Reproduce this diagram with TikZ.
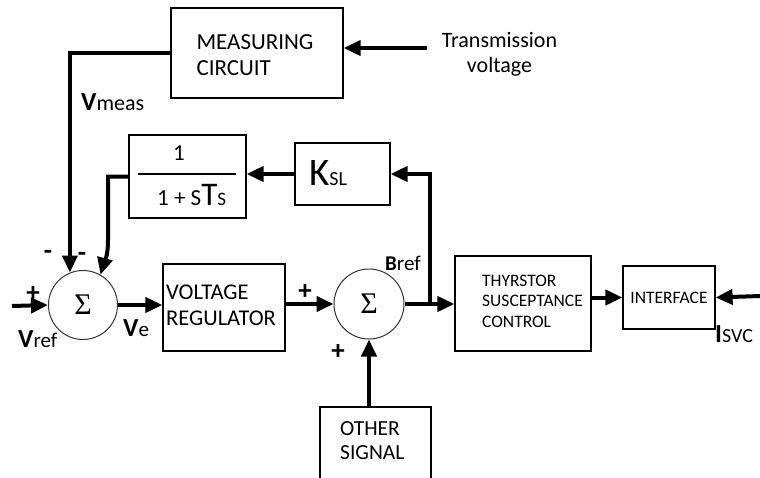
\documentclass[tikz,border=0pt]{standalone}
\usepackage{fontspec}
\setmainfont{Carlito}
\newfontfamily\sigmafont{Liberation Serif}
\usetikzlibrary{arrows.meta}
\begin{document}
\begin{tikzpicture}[x=1pt,y=-1pt,
  box/.style={draw,line width=1.2pt,inner sep=0pt},
  conn/.style={line width=4pt,-{Triangle[length=17pt,width=15pt]}},
  sumnode/.style={circle,draw=black!80,line width=1pt,minimum size=69pt,inner sep=0pt,font=\sigmafont\fontsize{30}{30}\selectfont},
  txt/.style={inner sep=0pt,align=left},
  sign/.style={inner sep=0pt,font=\fontsize{27}{27}\selectfont\bfseries},
  lbl/.style={inner sep=0pt,anchor=base west}
]
\useasboundingbox (0,0) rectangle (760,477);
\clip (0,0) rectangle (760,477);

% blocks
\node[box,minimum width=172pt,minimum height=90pt] (meas) at (257,53) {};
\node[txt,font=\fontsize{23}{26}\selectfont] (meastxt) at (255,55.5) {MEASURING\\CIRCUIT};

\node[txt,align=center,font=\fontsize{22}{25}\selectfont] (tv) at (499.5,54.5) {Transmission\\voltage};
\coordinate (tvin) at (427,48);

\node[box,minimum width=117pt,minimum height=83pt] (filt) at (187.5,176.5) {};
\draw[line width=1.2pt] (138,174) -- (236,174);
\node[txt,font=\fontsize{23}{23}\selectfont] (fnum) at (179,153) {1};
\node[lbl,font=\fontsize{23}{23}\selectfont] (fden) at (157,205) {1 + S{\fontsize{33}{33}\selectfont T}{\fontsize{19}{19}\selectfont S}};

\node[box,minimum width=95pt,minimum height=62pt] (ksl) at (342.5,174) {};
\node[lbl] (ksltxt) at (309,185) {{\fontsize{39}{39}\selectfont K}{\fontsize{20}{20}\selectfont SL}};

\node[sumnode] (s1) at (83,305) {Σ};
\node[sumnode,minimum size=70pt] (s2) at (369,304) {Σ};

\node[box,minimum width=122pt,minimum height=87pt] (vr) at (224,307.5) {};
\node[txt,anchor=west,font=\fontsize{22.5}{26}\selectfont] (vrtxt) at (166,305.5) {VOLTAGE\\REGULATOR};

\node[box,minimum width=136pt,minimum height=95pt] (tsc) at (523,303.5) {};
\node[txt,anchor=west,font=\fontsize{17.5}{20.5}\selectfont] (tsctxt) at (482,301) {THYRSTOR\\SUSCEPTANCE\\CONTROL};

\node[box,minimum width=92pt,minimum height=63pt,font=\fontsize{17.5}{17.5}\selectfont] (intf) at (669,297.5) {INTERFACE};
\coordinate (iin) at (760,296);

\node[box,minimum width=111pt,minimum height=80pt] (os) at (375.5,447) {};
\node[txt,anchor=west,font=\fontsize{21.5}{24}\selectfont] (ostxt) at (340,440.5) {OTHER\\SIGNAL};

\coordinate (vin) at (12,306);
\coordinate (br) at (430,304);

% connectors
\draw[conn] (tvin) -- (tvin -| meas.east);
\draw[conn] (meas.west) -| (s1.112);
\draw[conn] (filt.west) -- (108,176.5) -- (108,240) .. controls (108,258) and (104,262) .. (s1.60);
\draw[conn] (ksl.west) -- (ksl.west -| filt.east);
\draw[conn] (br) |- (ksl.east);
\draw[conn] (vin) -- (s1.west);
\draw[conn] (s1.east) -- (s1.east -| vr.west);
\draw[conn] (s2.west -| vr.east) -- (s2.west);
\draw[conn] (s2.east) -- (s2.east -| tsc.west);
\draw[conn] (tsc.east |- intf.west) -- (intf.west);
\draw[conn] (iin) -- (intf.east);
\draw[conn] (s2.south |- os.north) -- (s2.south);

% labels
\node[lbl] (vmeas) at (81,110) {{\fontsize{26}{26}\selectfont\bfseries V}{\fontsize{22}{22}\selectfont meas}};
\node[lbl] (vref) at (18,347) {{\fontsize{26}{26}\selectfont\bfseries V}{\fontsize{21}{21}\selectfont ref}};
\node[lbl] (ve) at (123,336) {{\fontsize{26}{26}\selectfont\bfseries V}{\fontsize{21}{21}\selectfont e}};
\node[lbl] (bref) at (385,270) {{\fontsize{21}{21}\selectfont\bfseries B}{\fontsize{21}{21}\selectfont ref}};
\node[lbl] (isvc) at (715,342) {{\fontsize{26}{26}\selectfont\bfseries I}{\fontsize{20}{20}\selectfont SVC}};

\node[sign] (p1) at (33,294) {+};
\node[sign] (m1) at (48,255) {-};
\node[sign] (m2) at (82,257) {-};
\node[sign] (p2) at (305,292) {+};
\node[sign] (p3) at (338,352) {+};
\end{tikzpicture}
\end{document}
